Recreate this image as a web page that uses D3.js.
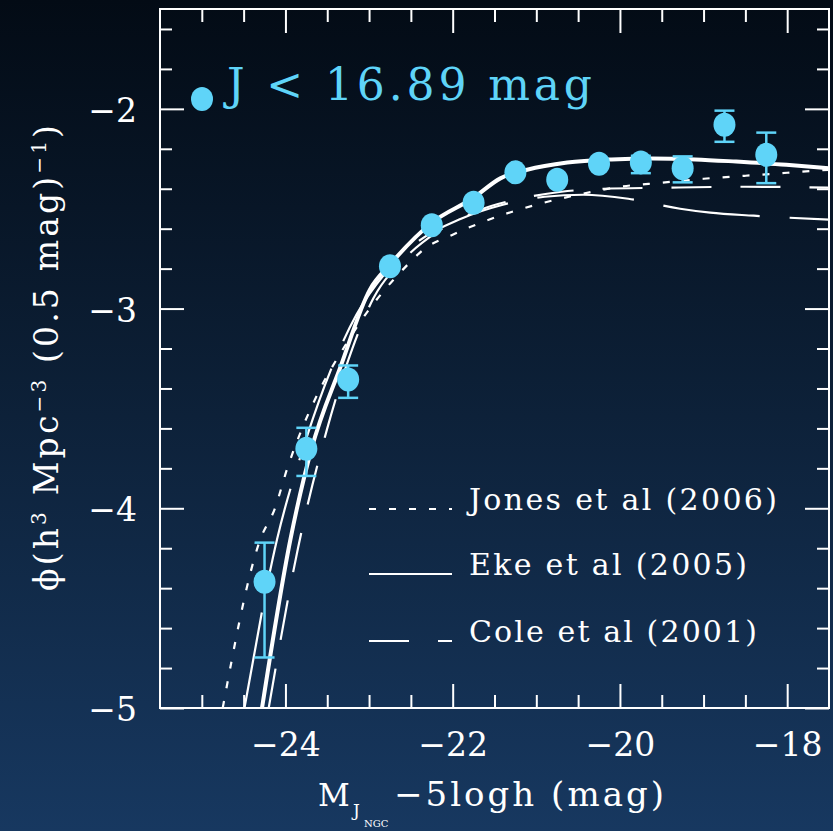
<!DOCTYPE html>
<html>
<head>
<meta charset="utf-8">
<script src="https://cdn.jsdelivr.net/npm/d3@7"></script>
<style>
  body { margin: 0; background: #0b1a2c; }
  svg { display: block; }
</style>
</head>
<body>
<script>
// binned luminosity function, J < 16.89
var binMag  = [-24.25, -23.75, -23.25, -22.75, -22.25, -21.75, -21.25, -20.75, -20.25, -19.75, -19.25, -18.75, -18.25];
var binPhi  = [-4.368, -3.702, -3.355, -2.788, -2.583, -2.470, -2.318, -2.355, -2.275, -2.268, -2.297, -2.080, -2.230];
var phiLow  = [-4.747, -3.838, -3.447, -2.805, -2.598, -2.485, -2.332, -2.370, -2.290, -2.322, -2.368, -2.165, -2.372];
var phiHigh = [-4.172, -3.597, -3.285, -2.771, -2.568, -2.455, -2.304, -2.340, -2.260, -2.235, -2.238, -2.009, -2.119];

// model curves
var ekeMag = [-24.28, -23.94, -23.69, -23.34, -22.99, -22.75, -22.25, -21.75, -21.43, -21.11, -20.63, -20.10, -19.62, -19.10, -18.61, -18.01, -17.50];
var ekePhi = [-5.00, -4.155, -3.705, -3.290, -2.905, -2.780, -2.570, -2.445, -2.348, -2.305, -2.269, -2.253, -2.248, -2.253, -2.264, -2.280, -2.298];

var jonesMag = [-24.75, -24.30, -24.13, -23.97, -23.79, -23.57, -23.30, -23.15, -22.55, -22.35, -22.00, -21.60, -21.00, -20.50, -20.00, -19.50, -19.00, -18.50, -18.00, -17.50];
var jonesPhi = [-5.00, -4.155, -4.005, -3.790, -3.590, -3.390, -3.195, -3.095, -2.785, -2.705, -2.630, -2.560, -2.480, -2.430, -2.390, -2.370, -2.350, -2.335, -2.320, -2.305];

var coleMag = [-24.20, -23.85, -23.50, -23.20, -22.95, -22.60, -22.20, -21.70, -21.20, -20.70, -20.20, -19.50, -18.50, -17.50];
var colePhi = [-5.00, -4.200, -3.600, -3.200, -2.950, -2.760, -2.620, -2.510, -2.450, -2.415, -2.400, -2.395, -2.390, -2.395];

var otherMag = [-24.49, -24.10, -23.75, -23.45, -23.15, -22.80, -22.40, -21.90, -21.40, -20.90, -20.44, -19.90, -19.28, -18.92, -18.40, -17.50];
var otherPhi = [-5.00, -4.155, -3.650, -3.300, -3.030, -2.820, -2.660, -2.550, -2.480, -2.440, -2.430, -2.450, -2.500, -2.520, -2.535, -2.555];

var xMajor = [-24, -22, -20, -18];
var yMajor = [-5, -4, -3, -2];

var legendNames = ["Jones et al (2006)", "Eke et al (2005)", "Cole et al (2001)"];

var width = 833, height = 831;
var cyan = "#5fd4f8";
var font = "'DejaVu Serif', serif";

var svg = d3.select("body").append("svg")
  .attr("width", width)
  .attr("height", height);

var defs = svg.append("defs");
var grad = defs.append("linearGradient")
  .attr("id", "bg")
  .attr("x1", 0).attr("y1", 0).attr("x2", 0).attr("y2", 1);
grad.append("stop").attr("offset", "0").attr("stop-color", "#030b15");
grad.append("stop").attr("offset", "0.5").attr("stop-color", "#0d2139");
grad.append("stop").attr("offset", "1").attr("stop-color", "#173860");

svg.append("rect")
  .attr("width", width).attr("height", height)
  .attr("fill", "url(#bg)");

var x = d3.scaleLinear().domain([-25.5, -17.5]).range([160, 829]);
var y = d3.scaleLinear().domain([-5, -1.5]).range([708, 9]);

defs.append("clipPath").attr("id", "plot")
  .append("rect")
  .attr("x", x.range()[0]).attr("y", y.range()[1])
  .attr("width", x.range()[1] - x.range()[0])
  .attr("height", y.range()[0] - y.range()[1]);

var line = d3.line()
  .x(function(d) { return x(d[0]); })
  .y(function(d) { return y(d[1]); })
  .curve(d3.curveMonotoneX);

var curves = [
  { mag: otherMag, phi: otherPhi, w: 2.2, dash: "97,30" },
  { mag: coleMag,  phi: colePhi,  w: 2.2, dash: "40,29" },
  { mag: jonesMag, phi: jonesPhi, w: 2.2, dash: "7,13" },
  { mag: ekeMag,   phi: ekePhi,   w: 4,   dash: null }
];

var g = svg.append("g").attr("clip-path", "url(#plot)");
g.selectAll("path.model")
  .data(curves)
  .enter().append("path")
  .attr("class", "model")
  .attr("d", function(c) { return line(d3.zip(c.mag, c.phi)); })
  .attr("fill", "none")
  .attr("stroke", "white")
  .attr("stroke-width", function(c) { return c.w; })
  .attr("stroke-dasharray", function(c) { return c.dash; });

// frame ticks
function minorTicks(lo, hi, step, major) {
  return d3.range(lo, hi + step / 2, step).filter(function(v) {
    return !major.some(function(m) { return Math.abs(m - v) < 1e-6; });
  });
}
var xMinor = minorTicks(-25, -18, 0.5, xMajor);
var yMinor = minorTicks(-4.8, -1.6, 0.2, yMajor);

function ticks(axis, pos, values, size) {
  var a = svg.append("g")
    .attr("transform", pos)
    .call(axis.tickValues(values).tickSize(size).tickFormat(""));
  a.select(".domain").remove();
  a.selectAll("line").attr("stroke", "white").attr("stroke-width", 2);
}
ticks(d3.axisBottom(x), "translate(0," + y.range()[0] + ")", xMajor, -24);
ticks(d3.axisBottom(x), "translate(0," + y.range()[0] + ")", xMinor, -13);
ticks(d3.axisTop(x), "translate(0," + y.range()[1] + ")", xMajor, -24);
ticks(d3.axisTop(x), "translate(0," + y.range()[1] + ")", xMinor, -13);
ticks(d3.axisLeft(y), "translate(" + x.range()[0] + ",0)", yMajor, -24);
ticks(d3.axisLeft(y), "translate(" + x.range()[0] + ",0)", yMinor, -12);
ticks(d3.axisRight(y), "translate(" + x.range()[1] + ",0)", yMajor, -24);
ticks(d3.axisRight(y), "translate(" + x.range()[1] + ",0)", yMinor, -12);

svg.append("rect")
  .attr("x", x.range()[0]).attr("y", y.range()[1])
  .attr("width", x.range()[1] - x.range()[0])
  .attr("height", y.range()[0] - y.range()[1])
  .attr("fill", "none")
  .attr("stroke", "white")
  .attr("stroke-width", 2);

// tick labels
var fmt = function(d) { return "\u2212" + Math.abs(d); };
var xl = svg.append("g")
  .attr("transform", "translate(0," + y.range()[0] + ")")
  .call(d3.axisBottom(x).tickValues(xMajor).tickSize(0).tickFormat(fmt));
xl.select(".domain").remove();
xl.selectAll("text")
  .attr("y", 48).attr("dy", 0)
  .attr("fill", "white")
  .style("font-family", font).style("font-size", "33px");

var yl = svg.append("g")
  .attr("transform", "translate(" + x.range()[0] + ",0)")
  .call(d3.axisLeft(y).tickValues(yMajor).tickSize(0).tickFormat(fmt));
yl.select(".domain").remove();
yl.selectAll("text")
  .attr("x", -23).attr("dy", "0.38em")
  .attr("fill", "white")
  .style("font-family", font).style("font-size", "33px");

// axis titles
var xt = svg.append("g").attr("fill", "white").style("font-family", font);
xt.append("text").attr("x", 318).attr("y", 806).style("font-size", "31px").text("M");
xt.append("text").attr("x", 353).attr("y", 816).style("font-size", "17px").text("J");
xt.append("text").attr("x", 364).attr("y", 827).style("font-size", "10px").text("NGC");
xt.append("text").attr("x", 394).attr("y", 806).style("font-size", "34px")
  .attr("textLength", 270).attr("lengthAdjust", "spacing")
  .text("\u22125logh (mag)");

var yt = svg.append("text")
  .attr("transform", "translate(58,358) rotate(-90)")
  .attr("text-anchor", "middle")
  .attr("fill", "white")
  .attr("textLength", 466).attr("lengthAdjust", "spacing")
  .style("font-family", font).style("font-size", "33px");
yt.append("tspan").text("\u03d5(h");
yt.append("tspan").attr("dy", -12).style("font-size", "20px").text("3");
yt.append("tspan").attr("dy", 12).text(" Mpc");
yt.append("tspan").attr("dy", -12).style("font-size", "20px").text("\u22123");
yt.append("tspan").attr("dy", 12).text(" (0.5 mag)");
yt.append("tspan").attr("dy", -12).style("font-size", "20px").text("\u22121");
yt.append("tspan").attr("dy", 12).text(")");

// error bars and points
var pts = d3.range(binMag.length).map(function(i) {
  return { m: binMag[i], p: binPhi[i], lo: phiLow[i], hi: phiHigh[i] };
});
var eb = svg.append("g").attr("stroke", cyan).attr("stroke-width", 2.5);
eb.selectAll("line.v").data(pts).enter().append("line")
  .attr("x1", function(d) { return x(d.m); }).attr("x2", function(d) { return x(d.m); })
  .attr("y1", function(d) { return y(d.lo); }).attr("y2", function(d) { return y(d.hi); });
eb.selectAll("line.lo").data(pts).enter().append("line")
  .attr("x1", function(d) { return x(d.m) - 10; }).attr("x2", function(d) { return x(d.m) + 10; })
  .attr("y1", function(d) { return y(d.lo); }).attr("y2", function(d) { return y(d.lo); });
eb.selectAll("line.hi").data(pts).enter().append("line")
  .attr("x1", function(d) { return x(d.m) - 10; }).attr("x2", function(d) { return x(d.m) + 10; })
  .attr("y1", function(d) { return y(d.hi); }).attr("y2", function(d) { return y(d.hi); });

svg.append("g").selectAll("ellipse").data(pts).enter().append("ellipse")
  .attr("cx", function(d) { return x(d.m); })
  .attr("cy", function(d) { return y(d.p); })
  .attr("rx", 11).attr("ry", 12)
  .attr("fill", cyan);

// sample label
svg.append("ellipse").attr("cx", 202).attr("cy", 99).attr("rx", 11).attr("ry", 12).attr("fill", cyan);
svg.append("text")
  .attr("x", 227).attr("y", 100)
  .attr("fill", cyan)
  .attr("textLength", 365).attr("lengthAdjust", "spacing")
  .style("font-family", font).style("font-size", "44px")
  .text("J < 16.89 mag");

// model legend
var legY = [509, 574, 641];
var legDash = [curves[2].dash, null, curves[1].dash];
var legLen = [308, 278, 288];
var leg = svg.append("g");
leg.selectAll("line").data(legendNames).enter().append("line")
  .attr("x1", 369).attr("x2", 452)
  .attr("y1", function(d, i) { return legY[i]; })
  .attr("y2", function(d, i) { return legY[i]; })
  .attr("stroke", "white").attr("stroke-width", 2.2)
  .attr("stroke-dasharray", function(d, i) { return legDash[i]; });
leg.selectAll("text").data(legendNames).enter().append("text")
  .attr("x", 469)
  .attr("y", function(d, i) { return legY[i] + 1; })
  .attr("fill", "white")
  .attr("textLength", function(d, i) { return legLen[i]; })
  .attr("lengthAdjust", "spacing")
  .style("font-family", font).style("font-size", "30px")
  .text(function(d) { return d; });
</script>
</body>
</html>
